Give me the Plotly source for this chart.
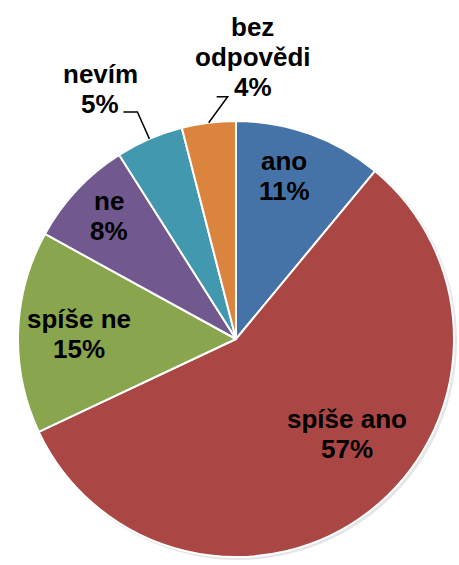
import math
import plotly.graph_objects as go

labels = ["ano", "spíše ano", "spíše ne", "ne", "nevím", "bez odpovědi"]
label_lines = [["ano"], ["spíše ano"], ["spíše ne"], ["ne"], ["nevím"], ["bez", "odpovědi"]]
values = [11, 57, 15, 8, 5, 4]
colors = ["#4572A7", "#AA4643", "#89A54E", "#71588F", "#4198AF", "#DB843D"]

# label placement styles (inside: radial fraction + angle offset; outside: leader geometry)
inside_rho = [0.78, 0.67, 0.72, 0.81, None, None]
inside_dang = [-3.4, -11.6, 0.0, 1.0, None, None]
leader_vec = [None, None, None, None, (-12, -27), (19, -26)]
leader_horiz = [None, None, None, None, -14, -11]
text_off = [None, None, None, None, (-37, -23), (25, -40)]

W, H = 459, 565
cx, cy, r = 236, 339, 218
FONT = "Liberation Sans, Arial, sans-serif"
FS = 26
LINE = 30

fig = go.Figure(go.Pie(
    labels=labels,
    values=values,
    textinfo="none",
    sort=False,
    direction="clockwise",
    rotation=0,
    marker=dict(colors=colors, line=dict(color="white", width=2)),
    showlegend=False,
    hoverinfo="label+percent",
    domain=dict(x=[(cx - r) / W, (cx + r) / W], y=[(H - cy - r) / H, (H - cy + r) / H]),
))

def px(x):
    return x / W

def py(y):
    return 1 - y / H

total = sum(values)
cum = 0
annotations = []
shapes = [dict(type="circle", xref="paper", yref="paper", layer="below",
               x0=px(cx - r + 1), x1=px(cx + r + 3), y0=py(cy + r + 3), y1=py(cy - r + 1),
               fillcolor="rgba(0,0,0,0.10)", line=dict(width=0))]
for i, v in enumerate(values):
    mid = (cum + v / 2) / total * 360
    cum += v
    pct = f"{round(v / total * 100)}%"
    lines = label_lines[i] + [pct]
    if inside_rho[i] is not None:
        a = math.radians(mid + inside_dang[i])
        bx = cx + inside_rho[i] * r * math.sin(a)
        by = cy - inside_rho[i] * r * math.cos(a)
    else:
        a = math.radians(mid)
        ax_ = cx + r * math.sin(a)
        ay_ = cy - r * math.cos(a)
        ex = ax_ + leader_vec[i][0]
        ey = ay_ + leader_vec[i][1]
        hx = ex + leader_horiz[i]
        shapes.append(dict(type="path", xref="paper", yref="paper",
                           path=f"M {px(ax_)},{py(ay_)} L {px(ex)},{py(ey)} L {px(hx)},{py(ey)}",
                           line=dict(color="black", width=1.5)))
        bx = ex + text_off[i][0]
        by = ey + text_off[i][1]
    n = len(lines)
    for k, t in enumerate(lines):
        ly = by + (k - (n - 1) / 2) * LINE
        annotations.append(dict(x=px(bx), y=py(ly), xref="paper", yref="paper",
                                text=f"<b>{t}</b>", showarrow=False,
                                xanchor="center", yanchor="middle",
                                font=dict(family=FONT, size=FS, color="black")))

fig.update_layout(width=W, height=H, margin=dict(l=0, r=0, t=0, b=0),
                  paper_bgcolor="white", plot_bgcolor="white",
                  annotations=annotations, shapes=shapes)
fig.write_html("out.html", config={"displayModeBar": False},
               post_script="document.body.style.margin='0';")
